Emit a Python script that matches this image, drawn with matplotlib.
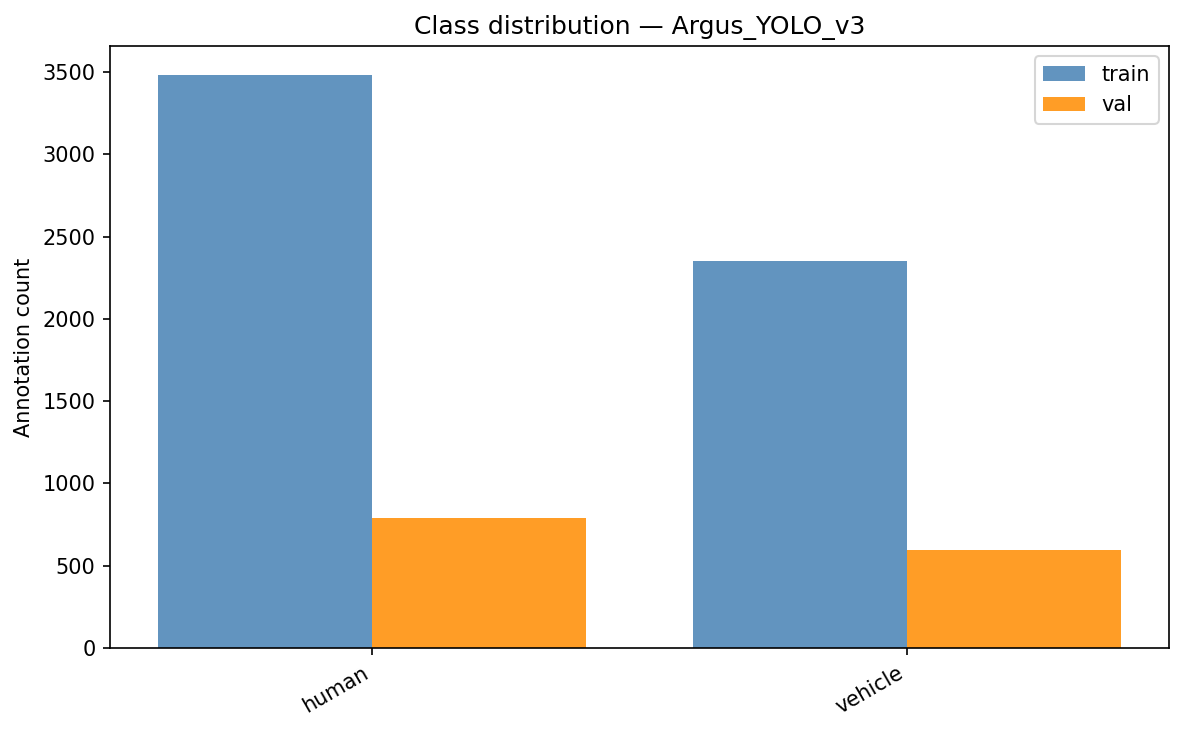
import numpy as np
import matplotlib.pyplot as plt

classes = ['human', 'vehicle']
train_counts = [3484, 2353]
val_counts = [793, 593]

x = np.arange(len(classes))
width = 0.4

fig, ax = plt.subplots(figsize=(1184 / 150, 732 / 150), dpi=150)
ax.bar(x - width / 2, train_counts, width, label='train', color='steelblue', alpha=0.85)
ax.bar(x + width / 2, val_counts, width, label='val', color='darkorange', alpha=0.85)

ax.set_xticks(x)
ax.set_xticklabels(classes, rotation=30, ha='right')
ax.set_ylabel('Annotation count')
ax.set_title('Class distribution — Argus_YOLO_v3')
ax.legend()

# axes position matched to the reference
fig.subplots_adjust(left=110 / 1184, right=1169 / 1184, top=1 - 46 / 732, bottom=1 - 648 / 732)
fig.savefig('out.png', dpi=150)
plt.close(fig)
